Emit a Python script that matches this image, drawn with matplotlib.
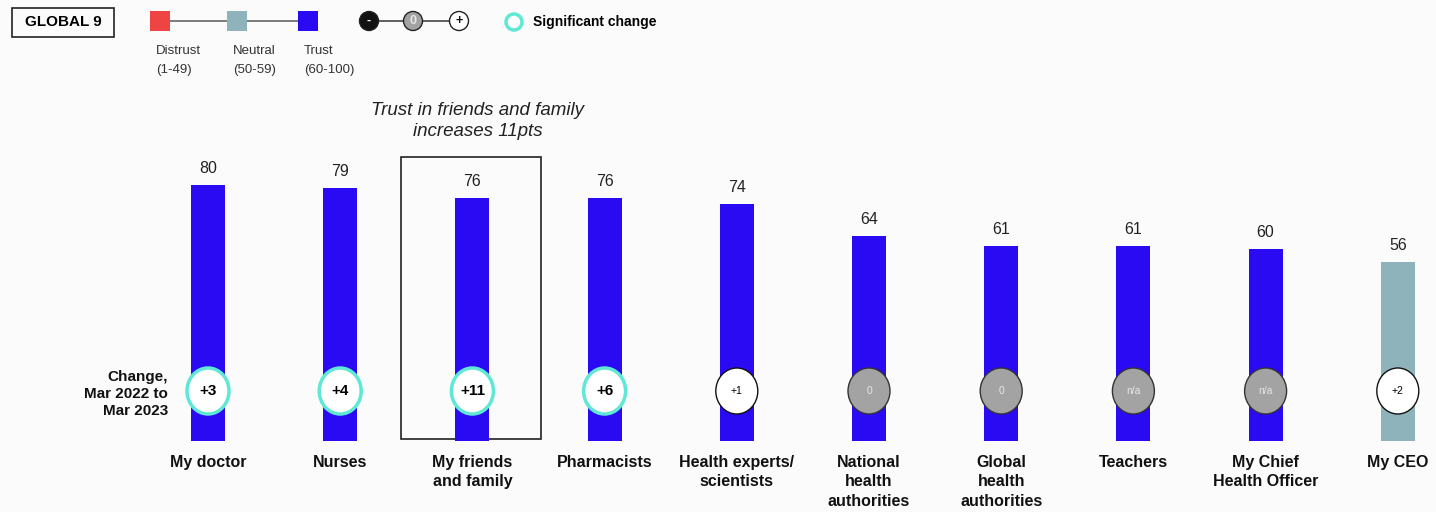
import matplotlib
matplotlib.use('Agg')
import matplotlib.pyplot as plt
from matplotlib.patches import Ellipse, Rectangle

plt.rcParams['font.family'] = ['Liberation Sans', 'DejaVu Sans']

categories = ['My doctor', 'Nurses', 'My friends\nand family', 'Pharmacists',
              'Health experts/\nscientists', 'National\nhealth\nauthorities',
              'Global\nhealth\nauthorities', 'Teachers', 'My Chief\nHealth Officer',
              'My CEO']
trust = [80, 79, 76, 76, 74, 64, 61, 61, 60, 56]
change = ['+3', '+4', '+11', '+6', '+1', '0', '0', 'n/a', 'n/a', '+2']
significant = [True, True, True, True, False, False, False, False, False, False]

DISTRUST = '#ef4444'
NEUTRAL = '#8fb3ba'
TRUST = '#2a0af2'
SIG = '#5fe8d6'
GREY = '#a3a3a3'
BG = '#fbfbfb'

# pixel layout helpers: bar i centred at 208 + 132.2*i px, baseline at 441 px, 3.2 px per point
PX_STEP = 132.2
PX_UNIT = 3.2


def _band_color(v):
    if v < 50:
        return DISTRUST
    if v < 60:
        return NEUTRAL
    return TRUST


def _draw_bars(ax):
    x = list(range(len(trust)))
    colors = [_band_color(v) for v in trust]
    ax.bar(x, trust, width=34 / PX_STEP, color=colors, zorder=2)
    for i, v in zip(x, trust):
        ax.text(i, v + 2.8, str(v), ha='center', va='bottom', fontsize=11.5, color='#222222')
    for i, name in zip(x, categories):
        ax.text(i, -4.3, name, ha='center', va='top', fontsize=11.5, fontweight='bold',
                linespacing=1.38, color='#111111')


def _draw_changes(ax):
    yc = 50 / PX_UNIT
    w = 42 / PX_STEP
    h = 46 / PX_UNIT
    for i, (c, sig) in enumerate(zip(change, significant)):
        if sig:
            ax.add_patch(Ellipse((i, yc), w, h, facecolor='white', edgecolor=SIG, lw=2.5, zorder=3))
            ax.text(i, yc, c, ha='center', va='center', fontsize=11, fontweight='bold', zorder=4)
        elif c.startswith('+') or c.startswith('-'):
            ax.add_patch(Ellipse((i, yc), w, h, facecolor='white', edgecolor='#111111', lw=1, zorder=3))
            ax.text(i, yc, c, ha='center', va='center', fontsize=7.5, zorder=4)
        else:
            ax.add_patch(Ellipse((i, yc), w, h, facecolor=GREY, edgecolor='#333333', lw=1, zorder=3))
            ax.text(i, yc, c, ha='center', va='center', fontsize=7.5, color='#e6e6e6', zorder=4)


def _draw_callout(ax):
    # box around friends and family
    x0 = 2 - 71 / PX_STEP
    ax.add_patch(Rectangle((x0, 0.6), 140 / PX_STEP, (439 - 155) / PX_UNIT - 0.6,
                           fill=False, edgecolor='#222222', lw=1.2, zorder=1))
    ax.text(2 + 5 / PX_STEP, (441 - 121) / PX_UNIT, 'Trust in friends and family\nincreases 11pts',
            ha='center', va='center', fontsize=13.5, style='italic', linespacing=1.3, color='#222222')
    ax.text(-0.3, (441 - 394) / PX_UNIT, 'Change,\nMar 2022 to\nMar 2023', ha='right', va='center',
            fontsize=11, fontweight='bold', linespacing=1.3, color='#111111')


def _draw_legend(fig):
    lg = fig.add_axes([0, 0, 1, 1], facecolor='none')
    lg.set_xlim(0, 1436)
    lg.set_ylim(512, 0)
    lg.axis('off')

    lg.add_patch(Rectangle((12, 8), 102, 29, fill=False, edgecolor='#222222', lw=1.2))
    lg.text(63, 22.5, 'GLOBAL 9', ha='center', va='center', fontsize=11, fontweight='bold')

    lg.plot([160, 308], [21, 21], color='#666666', lw=1.2)
    bands = [(160, DISTRUST, 'Distrust\n(1-49)'), (237, NEUTRAL, 'Neutral\n(50-59)'),
             (308, TRUST, 'Trust\n(60-100)')]
    for cx, col, lab in bands:
        lg.add_patch(Rectangle((cx - 10, 11), 20, 20, facecolor=col, edgecolor='none', zorder=3))
        lg.text(cx - 4, 45, lab, ha='left', va='top', fontsize=9.5, linespacing=1.75, color='#333333')

    lg.plot([369, 459], [21, 21], color='#444444', lw=1.2)
    for cx, fc, t, tc in [(369, '#111111', '-', 'white'), (413, GREY, '0', '#e6e6e6'),
                          (459, 'white', '+', '#111111')]:
        lg.add_patch(Ellipse((cx, 21), 19, 19, facecolor=fc, edgecolor='#222222', lw=1, zorder=3))
        lg.text(cx, 21, t, ha='center', va='center', fontsize=9, fontweight='bold', color=tc, zorder=4)

    lg.add_patch(Ellipse((514, 22), 16, 16, facecolor='white', edgecolor=SIG, lw=2.5))
    lg.text(533, 22, 'Significant change', ha='left', va='center', fontsize=10, fontweight='bold')


fig = plt.figure(figsize=(14.36, 5.12), dpi=100, facecolor=BG)
ax = fig.add_axes([0, 0, 1, 1], facecolor=BG)
ax.set_xlim(-208 / PX_STEP, (1436 - 208) / PX_STEP)
ax.set_ylim((441 - 512) / PX_UNIT, 441 / PX_UNIT)
ax.axis('off')

_draw_bars(ax)
_draw_changes(ax)
_draw_callout(ax)
_draw_legend(fig)

fig.savefig('out.png', dpi=100, facecolor=BG)
